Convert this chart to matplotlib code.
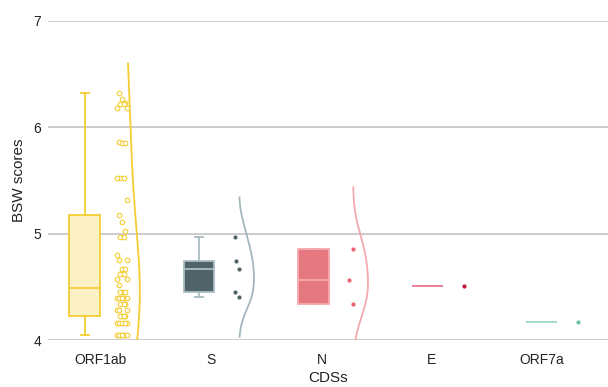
import numpy as np
import matplotlib.pyplot as plt
from matplotlib import cbook

plt.rcParams['font.family'] = ['Liberation Sans', 'DejaVu Sans']

# data
cds = ["ORF1ab", "S", "N", "E", "ORF7a"]

orf1ab = [6.32, 6.26, 6.23, 6.22, 6.22, 6.18, 6.18, 5.86, 5.85, 5.85,
          5.52, 5.52, 5.52, 5.32, 5.17, 5.11, 5.02, 4.97, 4.97, 4.80,
          4.75, 4.75, 4.67, 4.67, 4.62, 4.62, 4.57, 4.57, 4.52,
          4.45, 4.45, 4.45, 4.39, 4.39, 4.39, 4.39, 4.39, 4.34, 4.34,
          4.34, 4.28, 4.28, 4.28, 4.23, 4.23, 4.23, 4.23, 4.16, 4.16,
          4.16, 4.16, 4.16, 4.05, 4.05, 4.05, 4.05, 4.05, 4.05]
s_cds = [4.40, 4.45, 4.665, 4.74, 4.97]
n_cds = [4.34, 4.567, 4.855]
e_cds = [4.51]
orf7a = [4.166]

groups = [orf1ab, s_cds, n_cds, e_cds, orf7a]

box_fill = ["#FBF0C6", "#4F6368", "#E57880", "#E8849C", "#A6DDC8"]
box_edge = ["#F5CD33", "#A9BDC3", "#F4A9AE", "#E8849C", "#A6DDC8"]
pt_color = ["#F5CD33", "#4F6368", "#E8646E", "#C4163F", "#6CC2A0"]
vio_color = ["#F5CD33", "#A3B7BD", "#F4A9AE", None, None]
kde_bw = [0.62, 0.16, 0.21, 0, 0]
kde_ext = [0.28, 0.37, 0.58, 0, 0]


def kde(vals, bw, ext):
    vals = np.asarray(vals)
    yy = np.linspace(vals.min() - ext, vals.max() + ext, 300)
    dens = np.exp(-0.5 * ((yy[:, None] - vals[None, :]) / bw) ** 2).sum(axis=1)
    return yy, dens / dens.max()


fig = plt.figure(figsize=(6.08, 3.87), dpi=100)
ax = fig.add_axes([48 / 608, 1 - 340 / 387, 1 - 48 / 608, (340 - 20.7) / 387])

xs = np.arange(len(cds))
box_pos = xs * 1.035 - 0.145
pts_pos = xs * 1.035 + 0.19
vio_pos = xs * 1.035 + 0.218
jitter = np.array([-0.03, 0.0, 0.03, -0.015, 0.015, -0.045, 0.045])
small_jit = np.array([0.03, -0.01, 0.03, 0.0, -0.01])

for i, vals in enumerate(groups):
    st = cbook.boxplot_stats(vals)[0]
    st["q1"] = np.percentile(vals, 25, method="nearest")
    st["q3"] = np.percentile(vals, 75, method="nearest")
    st["whislo"] = min(vals)
    st["whishi"] = max(vals)
    st["fliers"] = []
    ax.bxp([st], positions=[box_pos[i]], widths=0.28, patch_artist=True,
           capwidths=0.07,
           boxprops=dict(facecolor=box_fill[i], edgecolor=box_edge[i], linewidth=1.3),
           medianprops=dict(color=box_edge[i], linewidth=1.3),
           whiskerprops=dict(color=box_edge[i], linewidth=1.3),
           capprops=dict(color=box_edge[i], linewidth=1.3),
           manage_ticks=False, zorder=3)

    n = len(vals)
    if n > 5:
        jx = pts_pos[i] + jitter[np.arange(n) % len(jitter)]
    elif n > 1:
        jx = pts_pos[i] + small_jit[:n]
    else:
        jx = np.full(n, pts_pos[i])
    if i == 0:
        ax.scatter(jx, vals, s=11, facecolors="white", edgecolors=pt_color[i],
                   linewidths=0.8, zorder=4)
    else:
        ax.scatter(jx, vals, s=9, color=pt_color[i], linewidths=0, zorder=4)

    if vio_color[i] is not None:
        yy, dd = kde(vals, kde_bw[i], kde_ext[i])
        ax.plot(vio_pos[i] + dd * 0.135, yy, color=vio_color[i], lw=1.3, zorder=2)

ax.set_xlim(-0.48, 4.6)
ax.set_ylim(4, 7)
ax.set_yticks([4, 5, 6, 7])
ax.set_xticks(xs)
ax.set_xticklabels(cds)
ax.grid(axis="y", color="#BDBDBD", linewidth=1.1, zorder=0)
ax.set_axisbelow(True)
for sp in ax.spines.values():
    sp.set_visible(False)
ax.tick_params(axis="both", length=0, labelsize=10, colors="#222222")
ax.tick_params(axis="x", pad=9)
ax.tick_params(axis="y", pad=5)
ax.set_xlabel("CDSs", fontsize=11, color="#222222", labelpad=3)
ax.set_ylabel("BSW scores", fontsize=11, color="#222222", labelpad=5)

fig.savefig("out.png", dpi=100)
